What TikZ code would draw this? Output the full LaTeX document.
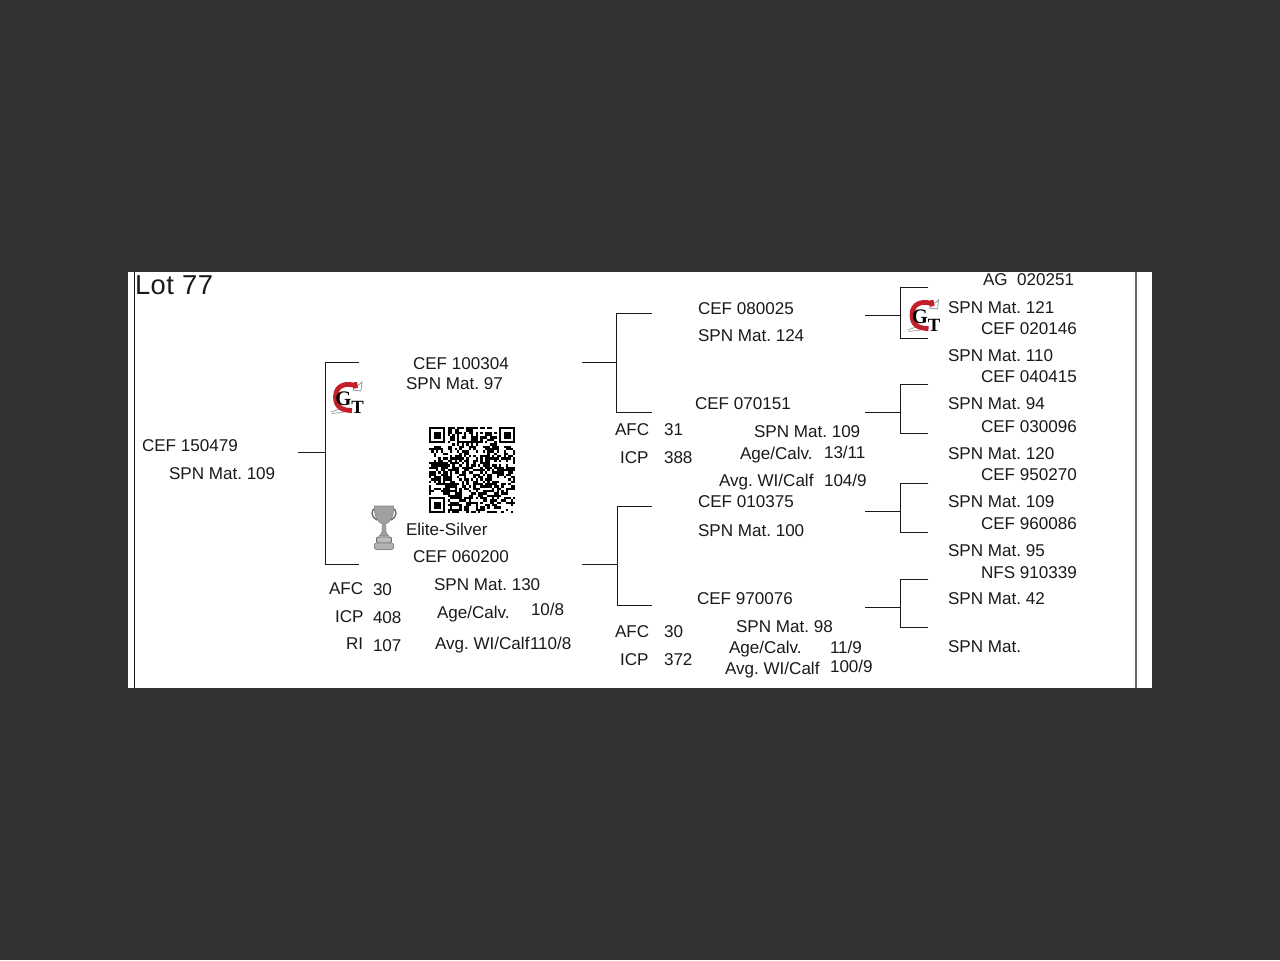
\documentclass[tikz,border=0pt]{standalone}
\usepackage{fontspec}
\setmainfont{Liberation Sans}
\newfontfamily\logofont{Liberation Serif}
\frenchspacing
\definecolor{bgdark}{HTML}{333333}
\definecolor{ink}{HTML}{1A1A1A}
\definecolor{logored}{HTML}{C4202C}
\definecolor{cupgrey}{HTML}{A0A0A0}
\definecolor{cupedge}{HTML}{666666}
\tikzset{
  lbl/.style={anchor=base west,inner sep=0pt,outer sep=0pt,text=ink,font=\fontsize{12.8}{14}\selectfont\frenchspacing},
  wire/.style={draw=ink,line width=0.75pt},
  frameln/.style={draw=ink,line width=1pt}
}
\newcommand{\lab}[4]{\node[lbl] (#1) at (#2,#3+5.8) {#4};}
\newcommand{\bracket}[7]{% name, stubx, junction x, armx, ystub, ytop, ybot
  \coordinate (#1s) at (#2,#5);
  \coordinate (#1j) at (#3,#5);
  \coordinate (#1t) at (#3,#6);
  \coordinate (#1b) at (#3,#7);
  \coordinate (#1ta) at (#4,#6);
  \coordinate (#1ba) at (#4,#7);
  \draw[wire] (#1s) -- (#1j);
  \draw[wire] (#1ta) -- (#1t) -- (#1b) -- (#1ba);
}
\newcommand{\gtlogo}[3]{% name, cx, cy
  \begin{scope}[shift={(#2,#3)}]
    \draw[black!40,line width=0.6pt] (6,-8) .. controls (8,-13) and (12,-12) .. (15,-16) -- (14,-7) -- cycle;
    \draw[black!35,line width=0.6pt] (-16,14) -- (-6,10.5) (-15,15.5) -- (-3,14);
    \draw[logored,line width=3.6pt] (9,-12) .. controls (1,-15.5) and (-11.5,-14) .. (-11.5,-1) .. controls (-11.5,9) and (-5,12.5) .. (5,12.5);
    \fill[logored] (7,-16) -- (10,-16) -- (11,-10) -- (6,-9.5) -- cycle;
    \node[inner sep=0pt,text=black,font=\logofont\bfseries\fontsize{15.5}{15.5}\selectfont] (#1g) at (-3.5,1) {G};
    \node[inner sep=0pt,text=black,font=\logofont\bfseries\fontsize{14}{14}\selectfont] (#1t) at (10.5,9) {T};
  \end{scope}
}
\begin{document}
\begin{tikzpicture}[x=0.75pt,y=-0.75pt]
\useasboundingbox (0,0) rectangle (1280,960);
\fill[bgdark] (0,0) rectangle (1280,960);
\fill[white] (128,272) rectangle (1152,688);
% frame lines
\coordinate (fla) at (134.5,272); \coordinate (flb) at (134.5,688);
\coordinate (fra) at (1136,272); \coordinate (frb) at (1136,688);
\draw[frameln] (fla) -- (flb);
\draw[draw=black!60,line width=0.9pt] (fra) -- (frb);
% title
\node[lbl,font=\fontsize{20.5}{22}\selectfont,/utils/exec={\addfontfeature{LetterSpace=2}}] (lot) at (135,294) {Lot 77};
% brackets
\bracket{ba}{298}{325}{359}{452}{362}{564}
\bracket{bb}{582}{616.5}{652}{362}{313}{412}
\bracket{bc}{582}{617.5}{652}{564}{506}{605}
\bracket{bd}{865}{900.5}{928}{315}{287}{338}
\bracket{be}{865}{900.5}{928}{412}{384}{433}
\bracket{bf}{865}{900.5}{928}{511}{483}{532}
\bracket{bg}{865}{900.5}{928}{607}{579}{627}
% first columns
\lab{a1}{142}{446}{CEF 150479}
\lab{a2}{169}{474}{SPN Mat. 109}
\lab{b1}{413}{364}{CEF 100304}
\lab{b2}{406}{384}{SPN Mat. 97}
\lab{c1}{406}{530}{Elite-Silver}
\lab{c2}{413}{557}{CEF 060200}
\lab{c3}{329}{589}{AFC}
\lab{c4}{373}{590}{30}
\lab{c5}{335}{617}{ICP}
\lab{c6}{373}{618}{408}
\lab{c7}{346}{644}{RI}
\lab{c8}{373}{646}{107}
\lab{c9}{434}{585}{SPN Mat. 130}
\lab{c10}{437}{613}{Age/Calv.}
\lab{c11}{531}{610}{10/8}
\lab{c12}{435}{644}{Avg. WI/Calf}
\lab{c13}{530}{644}{110/8}
% second columns
\lab{d1}{698}{309}{CEF 080025}
\lab{d2}{698}{336}{SPN Mat. 124}
\lab{e1}{695}{404}{CEF 070151}
\lab{e2}{615}{430}{AFC}
\lab{e3}{664}{430}{31}
\lab{e4}{620}{458}{ICP}
\lab{e5}{664}{458}{388}
\lab{e6}{754}{432}{SPN Mat. 109}
\lab{e7}{740}{454}{Age/Calv.}
\lab{e8}{824}{453}{13/11}
\lab{e9}{719}{481}{Avg. WI/Calf}
\lab{e10}{824}{481}{104/9}
\lab{f1}{698}{502}{CEF 010375}
\lab{f2}{698}{531}{SPN Mat. 100}
\lab{g1}{697}{599}{CEF 970076}
\lab{g2}{615}{632}{AFC}
\lab{g3}{664}{632}{30}
\lab{g4}{620}{660}{ICP}
\lab{g5}{664}{660}{372}
\lab{g6}{736}{627}{SPN Mat. 98}
\lab{g7}{729}{648}{Age/Calv.}
\lab{g8}{830}{648}{11/9}
\lab{g9}{725}{669}{Avg. WI/Calf}
\lab{g10}{830}{667}{100/9}
% right column
\lab{h1}{983}{280}{AG\ \ 020251}
\lab{h2}{948}{308}{SPN Mat. 121}
\lab{h3}{981}{329}{CEF 020146}
\lab{h4}{948}{356}{SPN Mat. 110}
\lab{h5}{981}{377}{CEF 040415}
\lab{h6}{948}{404}{SPN Mat. 94}
\lab{h7}{981}{427}{CEF 030096}
\lab{h8}{948}{454}{SPN Mat. 120}
\lab{h9}{981}{475}{CEF 950270}
\lab{h10}{948}{502}{SPN Mat. 109}
\lab{h11}{981}{524}{CEF 960086}
\lab{h12}{948}{551}{SPN Mat. 95}
\lab{h13}{981}{573}{NFS 910339}
\lab{h14}{948}{599}{SPN Mat. 42}
\lab{h15}{948}{647}{SPN Mat.}
% logos
\gtlogo{la}{347}{398}
\gtlogo{lb}{923.5}{316}
% QR code
\begin{scope}[shift={(429,427)}]
  \pgfmathsetseed{7707}
  \foreach \i in {0,...,36}{
    \foreach \j in {0,...,36}{
      \pgfmathparse{rnd<0.55?1:0}
      \ifnum\pgfmathresult=1
        \fill[black] ({\i*2.33},{\j*2.33}) rectangle ++(2.45,2.45);
      \fi
    }
  }
  \foreach \ox/\oy in {0/0,30/0,0/30}{
    \fill[white] ({(\ox-(\ox>0?1:0))*2.33},{(\oy-(\oy>0?1:0))*2.33}) rectangle ++({8*2.33},{8*2.33});
    \fill[black] ({\ox*2.33},{\oy*2.33}) rectangle ++({7*2.33},{7*2.33});
    \fill[white] ({(\ox+1)*2.33},{(\oy+1)*2.33}) rectangle ++({5*2.33},{5*2.33});
    \fill[black] ({(\ox+2)*2.33},{(\oy+2)*2.33}) rectangle ++({3*2.33},{3*2.33});
  }
\end{scope}
% trophy
\begin{scope}[shift={(384,528)}]
  \draw[cupedge,line width=1pt] (-8,-19) .. controls (-14,-20) and (-13,-10) .. (-7,-8);
  \draw[cupedge,line width=1pt] (8,-19) .. controls (14,-20) and (13,-10) .. (7,-8);
  \fill[cupgrey,draw=cupedge!80,line width=0.4pt] (-9.5,-22) -- (9.5,-22) .. controls (10.5,-11) and (6,-6) .. (1.8,-4) -- (1.8,3) .. controls (2,6) and (4,7) .. (5,8) -- (-5,8) .. controls (-4,7) and (-2,6) .. (-1.8,3) -- (-1.8,-4) .. controls (-6,-6) and (-10.5,-11) .. (-9.5,-22) -- cycle;
  \fill[cupgrey!70,draw=cupedge,line width=0.7pt,rounded corners=1.5pt] (-7.5,9) rectangle (7.5,15);
  \fill[cupgrey!80,draw=cupedge!80,line width=0.6pt,rounded corners=1.5pt] (-9.5,15) rectangle (9.5,21.5);
\end{scope}
\end{tikzpicture}
\end{document}
